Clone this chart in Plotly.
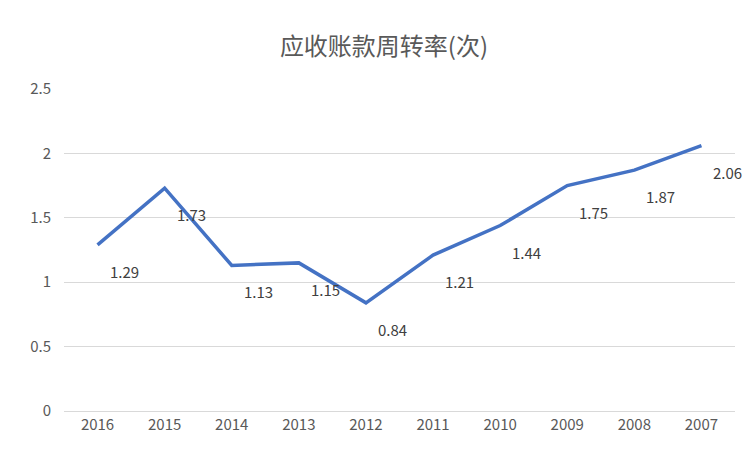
import plotly.graph_objects as go

years = ["2016","2015","2014","2013","2012","2011","2010","2009","2008","2007"]
values = [1.29,1.73,1.13,1.15,0.84,1.21,1.44,1.75,1.87,2.06]
title = "应收账款周转率(次)"
idx = list(range(len(years)))

fig = go.Figure(go.Scatter(x=idx, y=values, mode="lines",
    line=dict(color="#4472C4", width=3.5), hoverinfo="skip"))
for i, v in zip(idx, values):
    fig.add_annotation(x=i, y=v, text=f"{v:.2f}", showarrow=False,
        xanchor="left", yanchor="top", xshift=10, yshift=-14,
        font=dict(size=15, color="#404040"))
fig.update_layout(
    width=752, height=452, margin=dict(l=56, r=25, t=81, b=49),
    paper_bgcolor="white", plot_bgcolor="white", showlegend=False,
    font=dict(family="Noto Sans CJK SC, Calibri, sans-serif", color="#595959"),
    title=dict(text=title, x=0.5, xanchor="center", y=0.915, yanchor="middle",
               font=dict(size=24, color="#595959")),
    xaxis=dict(range=[-0.5, 9.5], tickvals=idx, ticktext=years, showgrid=False,
               zeroline=False, showline=True, linecolor="#D9D9D9",
               ticks="", tickfont=dict(size=15, color="#595959")),
    yaxis=dict(range=[0,2.5], dtick=0.5, showgrid=True, gridcolor="#D9D9D9",
               zeroline=False, ticks="", tickfont=dict(size=15, color="#595959"),
               ticklabelstandoff=12),
)
fig.write_html("out.html")
